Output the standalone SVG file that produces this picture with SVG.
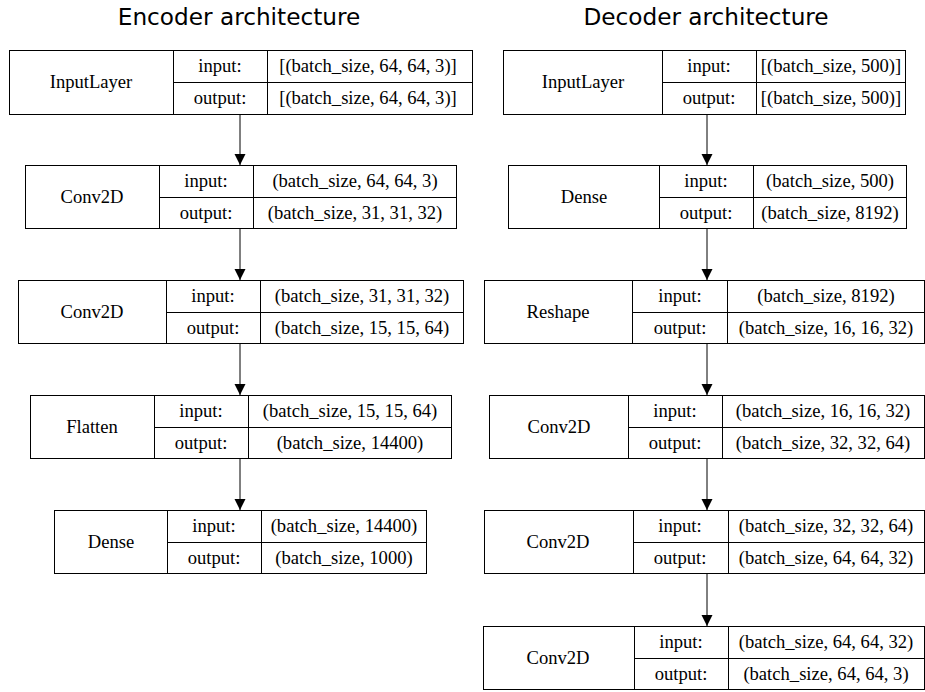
<svg xmlns="http://www.w3.org/2000/svg" width="925" height="692" viewBox="0 0 925 692">
<defs>
<marker id="ah" markerWidth="12" markerHeight="12" refX="11" refY="6" orient="auto" markerUnits="userSpaceOnUse">
<path d="M0,0.5 L11,6 L0,11.5 Z" fill="#000"/>
</marker>
</defs>
<style>
.b{fill:#fff;stroke:#000;stroke-width:1}
.l{stroke:#000;stroke-width:1;fill:none}
.t{font-family:"Liberation Serif","Times New Roman",serif;font-size:18.6px;fill:#000;text-anchor:middle}
.h{font-family:"DejaVu Sans",sans-serif;font-size:23.2px;fill:#000;text-anchor:middle}
.c{stroke:#000;stroke-width:1;fill:none;marker-end:url(#ah)}
</style>
<rect width="925" height="692" fill="#fff"/>
<text class="h" x="239" y="25">Encoder architecture</text>
<text class="h" x="706" y="25">Decoder architecture</text>

<g id="connectors">
<line class="c" x1="240" y1="114" x2="240" y2="165"/>
<line class="c" x1="240" y1="228" x2="240" y2="280"/>
<line class="c" x1="240" y1="343" x2="240" y2="395"/>
<line class="c" x1="240" y1="458" x2="240" y2="510"/>
<line class="c" x1="707" y1="114" x2="707" y2="165"/>
<line class="c" x1="707" y1="228" x2="707" y2="280"/>
<line class="c" x1="707" y1="343" x2="707" y2="395"/>
<line class="c" x1="707" y1="458" x2="707" y2="510"/>
<line class="c" x1="707" y1="573" x2="707" y2="626"/>
</g>

<g id="enc_input">
<rect class="b" x="9.5" y="50.5" width="463" height="64"/>
<path class="l" d="M173.5,50.5V114.5M267.5,50.5V114.5M173.5,82.5H472.5"/>
<text class="t" x="91" y="88">InputLayer</text>
<text class="t" x="220" y="72">input:</text>
<text class="t" x="220" y="104">output:</text>
<text class="t" x="368" y="72">[(batch_size, 64, 64, 3)]</text>
<text class="t" x="368" y="104">[(batch_size, 64, 64, 3)]</text>
</g>

<g id="enc_conv1">
<rect class="b" x="25.5" y="165.5" width="431" height="63"/>
<path class="l" d="M159.5,165.5V228.5M253.5,165.5V228.5M159.5,197.5H456.5"/>
<text class="t" x="92" y="203">Conv2D</text>
<text class="t" x="206" y="187">input:</text>
<text class="t" x="206" y="219">output:</text>
<text class="t" x="355" y="187">(batch_size, 64, 64, 3)</text>
<text class="t" x="355" y="219">(batch_size, 31, 31, 32)</text>
</g>

<g id="enc_conv2">
<rect class="b" x="18.5" y="280.5" width="445" height="63"/>
<path class="l" d="M166.5,280.5V343.5M260.5,280.5V343.5M166.5,312.5H463.5"/>
<text class="t" x="92" y="318">Conv2D</text>
<text class="t" x="213" y="302">input:</text>
<text class="t" x="213" y="334">output:</text>
<text class="t" x="362" y="302">(batch_size, 31, 31, 32)</text>
<text class="t" x="362" y="334">(batch_size, 15, 15, 64)</text>
</g>

<g id="enc_flatten">
<rect class="b" x="30.5" y="395.5" width="421" height="63"/>
<path class="l" d="M154.5,395.5V458.5M248.5,395.5V458.5M154.5,427.5H451.5"/>
<text class="t" x="92" y="433">Flatten</text>
<text class="t" x="201" y="417">input:</text>
<text class="t" x="201" y="449">output:</text>
<text class="t" x="350" y="417">(batch_size, 15, 15, 64)</text>
<text class="t" x="350" y="449">(batch_size, 14400)</text>
</g>

<g id="enc_dense">
<rect class="b" x="54.5" y="510.5" width="372" height="63"/>
<path class="l" d="M167.5,510.5V573.5M261.5,510.5V573.5M167.5,542.5H426.5"/>
<text class="t" x="111" y="548">Dense</text>
<text class="t" x="214" y="532">input:</text>
<text class="t" x="214" y="564">output:</text>
<text class="t" x="344" y="532">(batch_size, 14400)</text>
<text class="t" x="344" y="564">(batch_size, 1000)</text>
</g>

<g id="dec_input">
<rect class="b" x="503.5" y="50.5" width="402" height="64"/>
<path class="l" d="M662.5,50.5V114.5M756.5,50.5V114.5M662.5,82.5H905.5"/>
<text class="t" x="583" y="88">InputLayer</text>
<text class="t" x="709" y="72">input:</text>
<text class="t" x="709" y="104">output:</text>
<text class="t" x="831" y="72">[(batch_size, 500)]</text>
<text class="t" x="831" y="104">[(batch_size, 500)]</text>
</g>

<g id="dec_dense">
<rect class="b" x="508.5" y="165.5" width="398" height="63"/>
<path class="l" d="M659.5,165.5V228.5M753.5,165.5V228.5M659.5,197.5H906.5"/>
<text class="t" x="584" y="203">Dense</text>
<text class="t" x="706" y="187">input:</text>
<text class="t" x="706" y="219">output:</text>
<text class="t" x="830" y="187">(batch_size, 500)</text>
<text class="t" x="830" y="219">(batch_size, 8192)</text>
</g>

<g id="dec_reshape">
<rect class="b" x="484.5" y="280.5" width="440" height="63"/>
<path class="l" d="M632.5,280.5V343.5M727.5,280.5V343.5M632.5,312.5H924.5"/>
<text class="t" x="558" y="318">Reshape</text>
<text class="t" x="680" y="302">input:</text>
<text class="t" x="680" y="334">output:</text>
<text class="t" x="826" y="302">(batch_size, 8192)</text>
<text class="t" x="826" y="334">(batch_size, 16, 16, 32)</text>
</g>

<g id="dec_conv1">
<rect class="b" x="489.5" y="395.5" width="435" height="63"/>
<path class="l" d="M628.5,395.5V458.5M722.5,395.5V458.5M628.5,427.5H924.5"/>
<text class="t" x="559" y="433">Conv2D</text>
<text class="t" x="675" y="417">input:</text>
<text class="t" x="675" y="449">output:</text>
<text class="t" x="823" y="417">(batch_size, 16, 16, 32)</text>
<text class="t" x="823" y="449">(batch_size, 32, 32, 64)</text>
</g>

<g id="dec_conv2">
<rect class="b" x="484.5" y="510.5" width="440" height="63"/>
<path class="l" d="M633.5,510.5V573.5M728.5,510.5V573.5M633.5,542.5H924.5"/>
<text class="t" x="558" y="548">Conv2D</text>
<text class="t" x="680" y="532">input:</text>
<text class="t" x="680" y="564">output:</text>
<text class="t" x="826" y="532">(batch_size, 32, 32, 64)</text>
<text class="t" x="826" y="564">(batch_size, 64, 64, 32)</text>
</g>

<g id="dec_conv3">
<rect class="b" x="483.5" y="626.5" width="441" height="63"/>
<path class="l" d="M634.5,626.5V689.5M728.5,626.5V689.5M634.5,658.5H924.5"/>
<text class="t" x="558" y="664">Conv2D</text>
<text class="t" x="681" y="648">input:</text>
<text class="t" x="681" y="680">output:</text>
<text class="t" x="826" y="648">(batch_size, 64, 64, 32)</text>
<text class="t" x="826" y="680">(batch_size, 64, 64, 3)</text>
</g>
</svg>
